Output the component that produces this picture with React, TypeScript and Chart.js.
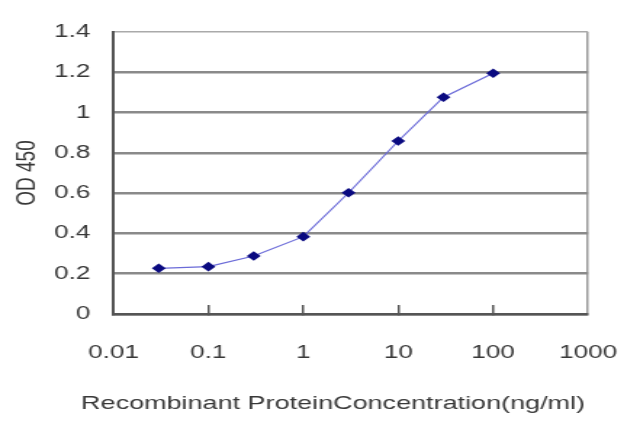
import React, { useEffect, useRef } from 'react';
import { Chart, registerables } from 'chart.js';

Chart.register(...registerables);

// ---- data ----
const concentrations = [0.03, 0.1, 0.3, 1, 3, 10, 30, 100];
const od450 = [0.227, 0.235, 0.288, 0.384, 0.602, 0.859, 1.076, 1.195];
const xTickValues = [0.01, 0.1, 1, 10, 100, 1000];
const xTickLabels = ['0.01', '0.1', '1', '10', '100', '1000'];
const yTickLabels = ['0', '0.2', '0.4', '0.6', '0.8', '1', '1.2', '1.4'];
const xTitle = 'Recombinant ProteinConcentration(ng/ml)';
const yTitle = 'OD 450';

// ---- layout ----
const PAGE_W = 640;
const PAGE_H = 427;
const DRAW_W = 441; // drawn narrower, then stretched horizontally like the reference image
const PAD_LEFT = 18;
const FONT = '"Liberation Sans", Arial, Helvetica, sans-serif';
const TEXT = '#383838';

export default function App() {
  const ref = useRef<HTMLCanvasElement>(null);

  useEffect(() => {
    const canvas = ref.current;
    if (!canvas) return;
    const chart = new Chart(canvas, {
      type: 'scatter',
      data: {
        datasets: [
          {
            data: concentrations.map((x, i) => ({ x, y: od450[i] })),
            showLine: true,
            borderColor: '#6b6bd8',
            borderWidth: 1.2,
            tension: 0,
            pointStyle: 'rectRot',
            pointRadius: 4.8,
            pointBackgroundColor: '#0a0a80',
            pointBorderColor: '#0a0a80',
            pointBorderWidth: 0,
          },
        ],
      },
      options: {
        responsive: false,
        animation: false,
        layout: { padding: { top: 32, right: 0, left: PAD_LEFT, bottom: 0 } },
        plugins: {
          legend: { display: false },
          tooltip: { enabled: false },
          title: {
            display: true,
            position: 'bottom',
            text: xTitle,
            color: TEXT,
            font: { family: FONT, size: 18.6, weight: 'normal' },
            padding: { top: 0, bottom: 12.2 },
          },
        },
        scales: {
          x: {
            type: 'logarithmic',
            min: 0.01,
            max: 1000,
            afterBuildTicks: (s: any) => {
              s.ticks = xTickValues.map((v) => ({ value: v }));
            },
            afterFit: (s: any) => {
              s.height = 113 - (18.6 * 1.2 + 12.2);
              s.paddingLeft = 0;
              s.paddingRight = DRAW_W - 405.2;
            },
            ticks: {
              autoSkip: false,
              maxRotation: 0,
              padding: 37,
              color: TEXT,
              font: { family: FONT, size: 18 },
              callback: (_v: any, i: number) => xTickLabels[i],
            },
            grid: {
              drawOnChartArea: true,
              drawTicks: true,
              color: (c: any) => (c.tick && c.tick.value === 1000 ? '#9a9a9a' : 'rgba(0,0,0,0)'),
              lineWidth: 1.5,
              tickLength: -9,
              tickWidth: 1.5,
              tickColor: (c: any) =>
                c.tick && (c.tick.value === 0.01 || c.tick.value === 1000) ? 'rgba(0,0,0,0)' : '#555555',
            },
            border: { display: true, color: '#555555', width: 2.5 },
            title: { display: false },
          },
          y: {
            min: 0,
            max: 1.4,
            afterFit: (s: any) => {
              s.width = 78.2 - PAD_LEFT;
              s.paddingTop = 0;
              s.paddingBottom = 0;
            },
            ticks: {
              stepSize: 0.2,
              padding: 16,
              color: TEXT,
              font: { family: FONT, size: 18 },
              callback: (_v: any, i: number) => yTickLabels[i],
            },
            grid: {
              drawTicks: false,
              color: (c: any) => (c.tick && c.tick.value > 1.39 ? '#aaaaaa' : '#8a8a8a'),
              lineWidth: (c: any) => (c.tick && c.tick.value > 1.39 ? 1.5 : 2.5),
            },
            border: { display: true, color: '#555555', width: 2 },
            title: {
              display: true,
              text: yTitle,
              color: TEXT,
              font: { family: FONT, size: 19 },
              padding: { top: 18.6 - PAD_LEFT - 11.4, bottom: 0 },
            },
          },
        },
      },
    } as any);
    return () => chart.destroy();
  }, []);

  return (
    <div
      style={{
        position: 'absolute',
        left: 0,
        top: 0,
        width: PAGE_W,
        height: PAGE_H,
        background: '#ffffff',
        overflow: 'hidden',
      }}
    >
      <canvas
        ref={ref}
        width={DRAW_W}
        height={PAGE_H}
        style={{ display: 'block', width: PAGE_W, height: PAGE_H }}
      />
    </div>
  );
}
